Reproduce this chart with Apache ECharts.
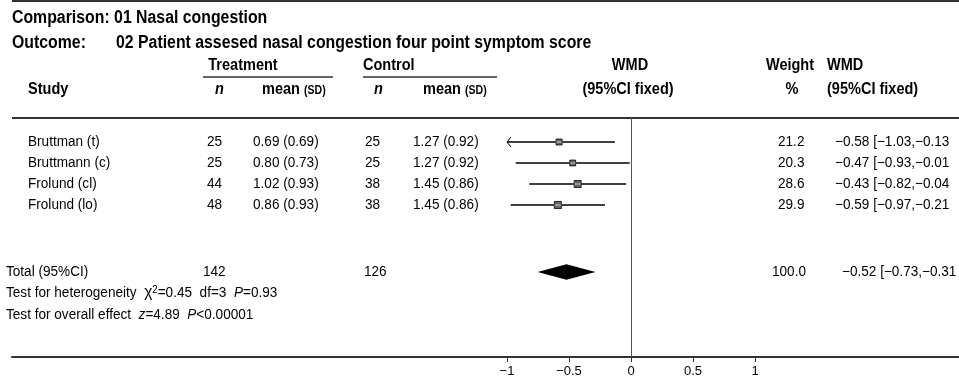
<!DOCTYPE html>
<html><head><meta charset="utf-8">
<script src="https://cdn.jsdelivr.net/npm/echarts@6/dist/echarts.min.js"></script>
<style>html,body{margin:0;padding:0;background:#fff}#c{width:959px;height:384px}</style>
</head><body><div id="c"></div>
<script>
// ---- data ----
const studies = ['Bruttman (t)', 'Bruttmann (c)', 'Frolund (cl)', 'Frolund (lo)'];
const treatN = [25, 25, 44, 48];
const treatMean = [0.69, 0.80, 1.02, 0.86];
const treatSD = [0.69, 0.73, 0.93, 0.93];
const ctrlN = [25, 25, 38, 38];
const ctrlMean = [1.27, 1.27, 1.45, 1.45];
const ctrlSD = [0.92, 0.92, 0.86, 0.86];
const wmd = [-0.58, -0.47, -0.43, -0.59];
const ciLow = [-1.03, -0.93, -0.82, -0.97];
const ciHigh = [-0.13, -0.01, -0.04, -0.21];
const weights = [21.2, 20.3, 28.6, 29.9];
const totalTreatN = 142;
const totalCtrlN = 126;
const totalWMD = -0.52;
const totalLow = -0.73;
const totalHigh = -0.31;
const totalWeight = 100.0;
const hetChi2 = 0.45, hetDf = 3, hetP = 0.93;
const overallZ = 4.89, overallP = '<0.00001';
const tickValues = [-1, -0.5, 0, 0.5, 1];
const displayMin = -1;

// ---- layout ----
const REG = "'Liberation Sans',Arial,sans-serif";
const zeroPx = 631, unitPx = 124, gridLeft = 12, W = 959;
const rowTop = 142, rowStep = 21, gridTop = 118, axisY = 357;
const xMin = (gridLeft - zeroPx) / unitPx, xMax = (W - zeroPx) / unitPx;
const yMin = (gridTop - rowTop) / rowStep, yMax = (axisY - rowTop) / rowStep;
const totalRow = (272 - rowTop) / rowStep;
const hetRow = (293 - rowTop) / rowStep;
const ovRow = (315 - rowTop) / rowStep;

const mn = v => v.toFixed(2).replace('-', '\u2212');
const f2 = v => v.toFixed(2);
const ciText = (e, l, h) => `${mn(e)} [${mn(l)},${mn(h)}`;

const chart = echarts.init(document.getElementById('c'));

// condensed bold header text (scaled horizontally)
function H(x, y, text, size, align, extra) {
  return {
    type: 'text', x: x, y: y, scaleX: 0.88,
    style: Object.assign({ text: text, fill: '#000', fontSize: size, fontWeight: 'bold', fontFamily: REG,
      align: align || 'left', verticalAlign: 'middle', textAlign: align || 'left', textVerticalAlign: 'middle' }, extra || {})
  };
}
const colHead = { fontSize: 16.5, fontWeight: 'bold', fontFamily: REG, verticalAlign: 'bottom' };
const sdHead = { fontSize: 12, fontWeight: 'bold', fontFamily: REG, verticalAlign: 'bottom', padding: [0, 0, 1, 0] };

const graphics = [
  { type: 'line', shape: { x1: 12, y1: 1, x2: W, y2: 1 }, style: { stroke: '#333', lineWidth: 2 } },
  H(12, 18, 'Comparison: 01 Nasal congestion', 18),
  H(12, 43, 'Outcome:', 18),
  H(116, 43, '02 Patient assesed nasal congestion four point symptom score', 18),
  H(243, 65, 'Treatment', 16.5, 'center'),
  { type: 'line', shape: { x1: 203, y1: 77, x2: 333, y2: 77 }, style: { stroke: '#333', lineWidth: 1.5 } },
  H(363, 65, 'Control', 16.5),
  { type: 'line', shape: { x1: 363, y1: 77, x2: 497, y2: 77 }, style: { stroke: '#333', lineWidth: 1.5 } },
  H(630, 65, 'WMD', 16.5, 'center'),
  H(790, 65, 'Weight', 16.5, 'center'),
  H(827, 65, 'WMD', 16.5),
  H(28, 89, 'Study', 16.5),
  H(215, 89, 'n', 16.5, 'left', { fontStyle: 'italic' }),
  H(262, 89, '{a|mean} {b|(SD)}', 16.5, 'left', { rich: { a: colHead, b: sdHead } }),
  H(374, 89, 'n', 16.5, 'left', { fontStyle: 'italic' }),
  H(423, 89, '{a|mean} {b|(SD)}', 16.5, 'left', { rich: { a: colHead, b: sdHead } }),
  H(628, 89, '(95%CI fixed)', 16.5, 'center'),
  H(792, 89, '%', 16.5, 'center'),
  H(827, 89, '(95%CI fixed)', 16.5),
  { type: 'line', shape: { x1: 12, y1: gridTop, x2: W, y2: gridTop }, style: { stroke: '#333', lineWidth: 2 } }
];

const tStyle = { fill: '#000', fontSize: 14, fontFamily: REG, align: 'left', verticalAlign: 'middle' };
function T(x, y, text, extra) {
  return { type: 'text', x: x, y: y, scaleX: 0.97, style: Object.assign({}, tStyle, { text: text }, extra || {}) };
}

chart.setOption({
  animation: false,
  backgroundColor: '#fff',
  graphic: { elements: graphics },
  grid: { left: gridLeft, right: 0, top: gridTop, bottom: 384 - axisY },
  xAxis: {
    type: 'value', min: xMin, max: xMax,
    axisLine: { show: true, onZero: false, lineStyle: { color: '#333', width: 2 } },
    axisTick: { show: true, customValues: tickValues, length: 5, lineStyle: { color: '#333', width: 1 } },
    axisLabel: { show: true, customValues: tickValues, color: '#000', fontSize: 13, fontFamily: REG, margin: 8,
      formatter: v => String(v).replace('-', '\u2212') },
    splitLine: { show: false }
  },
  yAxis: { type: 'value', inverse: true, min: yMin, max: yMax, show: false },
  series: [
    {
      type: 'custom', name: 'studies',
      data: studies.map((s, i) => [wmd[i], i]),
      encode: { x: 0, y: 1 },
      renderItem: (params, api) => {
        const i = params.dataIndex;
        const y = api.coord([0, i])[1];
        const lo = Math.max(ciLow[i], displayMin);
        const x1 = api.coord([lo, i])[0], x2 = api.coord([ciHigh[i], i])[0], xe = api.coord([wmd[i], i])[0];
        const ch = [{ type: 'line', shape: { x1: x1, y1: y, x2: x2, y2: y }, style: { stroke: '#000', lineWidth: 1.5 } }];
        if (ciLow[i] < displayMin) {
          ch.push({ type: 'polyline', shape: { points: [[x1 + 4, y - 5], [x1, y], [x1 + 4, y + 5]] }, style: { stroke: '#000', lineWidth: 1, fill: null } });
        }
        const s = Math.sqrt(weights[i]) * 1.3;
        ch.push({ type: 'rect', shape: { x: xe - s / 2, y: y - s / 2, width: s, height: s }, style: { fill: '#666', stroke: '#000', lineWidth: 0.8 } });
        ch.push({ type: 'line', shape: { x1: xe - s / 2, y1: y, x2: xe + s / 2, y2: y }, style: { stroke: '#ddd', lineWidth: 0.8 } });
        ch.push(T(28, y, studies[i]));
        ch.push(T(207, y, String(treatN[i])));
        ch.push(T(253, y, `${f2(treatMean[i])} (${f2(treatSD[i])})`));
        ch.push(T(365, y, String(ctrlN[i])));
        ch.push(T(413, y, `${f2(ctrlMean[i])} (${f2(ctrlSD[i])})`));
        ch.push(T(778, y, weights[i].toFixed(1)));
        ch.push(T(835, y, ciText(wmd[i], ciLow[i], ciHigh[i])));
        return { type: 'group', children: ch };
      },
      markLine: {
        silent: true, symbol: 'none', label: { show: false },
        lineStyle: { color: '#555', width: 1, type: 'solid' },
        data: [{ xAxis: 0 }]
      }
    },
    {
      type: 'custom', name: 'total',
      data: [[totalWMD, totalRow]],
      encode: { x: 0, y: 1 },
      renderItem: (params, api) => {
        const p = api.coord([totalWMD, totalRow]);
        const xl = api.coord([totalLow, totalRow])[0], xh = api.coord([totalHigh, totalRow])[0];
        const y = p[1], h = 7;
        const yH = api.coord([0, hetRow])[1], yO = api.coord([0, ovRow])[1];
        return { type: 'group', children: [
          { type: 'polygon', shape: { points: [[xl, y], [p[0], y - h], [xh, y], [p[0], y + h]] }, style: { fill: '#000', stroke: '#000', lineWidth: 1.5 } },
          T(6, y, 'Total (95%CI)'),
          T(203, y, String(totalTreatN)),
          T(364, y, String(totalCtrlN)),
          T(772, y, totalWeight.toFixed(1)),
          T(842, y, ciText(totalWMD, totalLow, totalHigh)),
          T(6, yH, `Test for heterogeneity  {g|\u03c7}{s|2}=${f2(hetChi2)}  df=${hetDf}  {i|P}=${f2(hetP)}`, {
            rich: { g: { fontSize: 16, fontFamily: REG }, s: { fontSize: 10, fontFamily: REG, verticalAlign: 'top', padding: [0, 0, 6, 0] }, i: { fontSize: 14, fontStyle: 'italic', fontFamily: REG } } }),
          T(6, yO, `Test for overall effect  {i|z}=${f2(overallZ)}  {i|P}${overallP}`, {
            rich: { i: { fontSize: 14, fontStyle: 'italic', fontFamily: REG } } })
        ] };
      }
    }
  ]
});
</script></body></html>
